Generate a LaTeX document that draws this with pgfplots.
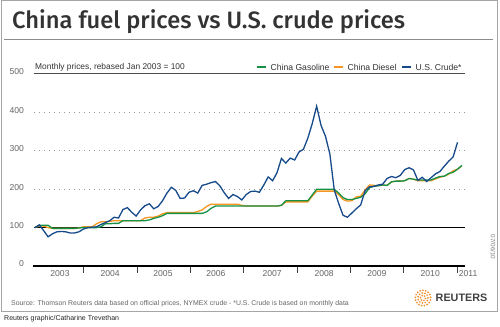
\documentclass[border=0pt]{standalone}
\usepackage{pgfplots}
\pgfplotsset{compat=1.18}
\usepackage{pgfplotstable}
\usepackage{fontspec}
\setmainfont{Liberation Sans}
\newfontfamily\titlefont{Fira Sans}[UprightFont=* Medium]
\definecolor{gasc}{RGB}{22,146,72}
\definecolor{diec}{RGB}{246,150,32}
\definecolor{crdc}{RGB}{22,74,138}
\definecolor{txt}{RGB}{51,51,51}
\definecolor{tickc}{RGB}{102,102,102}
\definecolor{framec}{RGB}{165,165,165}
\definecolor{rorange}{RGB}{242,140,40}

\pgfplotstableread{
k gas diesel crude
0 100 100 100
1 106 104 107
2 106 104 92
3 106 100 76
4 98 98 84
5 98 98 89
6 98 98 90
7 98 98 89
8 98 98 86
9 98 98 86
10 99 99 89
11 100 102 96
12 100 102 100
13 100 102 101
14 100 110 102
15 102 115 108
16 110 115 113
17 110 116 118
18 111 118 127
19 111 118 125
20 118 118 147
21 118 118 152
22 118 118 140
23 118 118 130
24 118 118 146
25 118 125 157
26 120 127 162
27 124 127 149
28 127 130 155
29 131 136 170
30 137 139 190
31 137 139 205
32 137 139 197
33 137 139 176
34 137 139 177
35 137 139 192
36 137 139 196
37 137 142 190
38 137 146 210
39 141 155 213
40 150 161 217
41 156 161 220
42 156 161 209
43 156 161 191
44 156 161 176
45 156 161 186
46 156 161 181
47 156 158 172
48 156 156 186
49 156 156 194
50 156 156 195
51 156 156 192
52 156 156 211
53 156 156 232
54 156 156 222
55 156 156 243
56 158 158 280
57 170 167 268
58 170 167 281
59 170 167 276
60 170 167 297
61 170 167 304
62 170 167 333
63 185 182 371
64 200 195 416
65 200 195 366
66 200 195 338
67 200 195 292
68 200 195 198
69 190 186 163
70 178 173 132
71 173 169 127
72 173 170 138
73 176 180 149
74 179 182 159
75 188 198 196
76 204 211 206
77 208 210 207
78 209 209 211
79 211 211 213
80 210 210 228
81 219 219 233
82 221 221 230
83 221 221 236
84 222 222 251
85 228 228 256
86 226 226 250
87 224 222 223
88 224 222 231
89 224 222 220
90 224 222 230
91 229 227 240
92 233 231 246
93 234 234 260
94 241 239 273
95 244 248 284
96 252 252 322
97 262 261 nan
}\fuel

\begin{document}
\begin{tikzpicture}[x=1bp,y=1bp]
\useasboundingbox (0,0) rectangle (500,326);
\fill[white] (0,0) rectangle (500,326);
\draw[framec, line width=1bp] (1,325) rectangle (497,15);
\node[anchor=base west, inner sep=0pt, text=txt, font={\titlefont\fontsize{23.7bp}{26bp}\selectfont}] at (12,297.7) {China fuel prices vs U.S. crude prices};
\draw[black!45, line width=0.8bp] (4,287) -- (493,287);

\begin{axis}[
  at={(34bp,60bp)}, anchor=south west,
  scale only axis, width=431bp, height=192bp,
  xmin=-0.2, xmax=97.7, ymin=0, ymax=500,
  clip=false,
  axis line style={draw=none},
  xtick={10.93,23.2,35.24,47.28,59.55,71.59,83.62,95.89},
  xticklabels={},
  xtick pos=left, ytick pos=left,
  tick align=outside,
  major tick length=6.5bp,
  xtick style={draw=black!75, line width=1bp},
  ytick={0,100,200,300,400,500},
  ytick style={draw=none},
  yticklabel style={font=\fontsize{8.6bp}{10bp}\selectfont, text=tickc, yshift=2bp},
  /pgf/number format/assume math mode=true,
]
\draw[black!40, line width=1bp, dash pattern=on 1bp off 4bp] (axis cs:-0.2,200) -- (axis cs:97.7,200);
\draw[black!40, line width=1bp, dash pattern=on 1bp off 4bp] (axis cs:-0.2,300) -- (axis cs:97.7,300);
\draw[black!40, line width=1bp, dash pattern=on 1bp off 4bp] (axis cs:-0.2,400) -- (axis cs:97.7,400);
\draw[black!70, line width=1bp] (axis cs:-0.2,500) -- (axis cs:97.7,500);
\draw[black, line width=1.3bp] (axis cs:-0.2,100) -- (axis cs:97.7,100);
\draw[black, line width=2bp] (axis cs:-0.5,0) -- (axis cs:97.7,0);

\addplot[diec, line width=1.3bp, mark=none] table[x=k,y=diesel]{\fuel};
\addplot[gasc, line width=1.3bp, mark=none] table[x=k,y=gas]{\fuel};
\addplot[crdc, line width=1.3bp, mark=none] table[x=k,y=crude]{\fuel};

\node[anchor=south west, inner sep=0pt, text=txt, font=\fontsize{8.4bp}{10bp}\selectfont, yshift=2.5bp, xshift=1bp] at (axis cs:-0.2,500) {Monthly prices, rebased Jan 2003 = 100};

\node[text=tickc, font=\fontsize{8.6bp}{10bp}\selectfont, yshift=-7.5bp] at (axis cs:5.7,0) {2003};
\node[text=tickc, font=\fontsize{8.6bp}{10bp}\selectfont, yshift=-7.5bp] at (axis cs:17.1,0) {2004};
\node[text=tickc, font=\fontsize{8.6bp}{10bp}\selectfont, yshift=-7.5bp] at (axis cs:29.1,0) {2005};
\node[text=tickc, font=\fontsize{8.6bp}{10bp}\selectfont, yshift=-7.5bp] at (axis cs:41.1,0) {2006};
\node[text=tickc, font=\fontsize{8.6bp}{10bp}\selectfont, yshift=-7.5bp] at (axis cs:53.9,0) {2007};
\node[text=tickc, font=\fontsize{8.6bp}{10bp}\selectfont, yshift=-7.5bp] at (axis cs:65.7,0) {2008};
\node[text=tickc, font=\fontsize{8.6bp}{10bp}\selectfont, yshift=-7.5bp] at (axis cs:77.7,0) {2009};
\node[text=tickc, font=\fontsize{8.6bp}{10bp}\selectfont, yshift=-7.5bp] at (axis cs:89.8,0) {2010};
\node[text=tickc, font=\fontsize{8.6bp}{10bp}\selectfont, yshift=-7.5bp] at (axis cs:98.4,0) {2011};
\end{axis}

% legend
\draw[gasc, line width=1.8bp] (257,259) -- (266,259);
\node[anchor=west, inner sep=0pt, text=txt, font=\fontsize{8.6bp}{10bp}\selectfont] at (270.5,259) {China Gasoline};
\draw[diec, line width=1.8bp] (334,259) -- (343,259);
\node[anchor=west, inner sep=0pt, text=txt, font=\fontsize{8.6bp}{10bp}\selectfont] at (347.5,259) {China Diesel};
\draw[crdc, line width=1.8bp] (402,259) -- (411,259);
\node[anchor=west, inner sep=0pt, text=txt, font=\fontsize{8.6bp}{10bp}\selectfont] at (415.5,259) {U.S. Crude*};

\node[anchor=west, inner sep=0pt, text=tickc, font=\fontsize{6.9bp}{8bp}\selectfont] at (11,22) {Source: Thomson Reuters data based on official prices, NYMEX crude - *U.S. Crude is based on monthly data};
\node[anchor=west, inner sep=0pt, text=black!85, font=\fontsize{7bp}{8bp}\selectfont] at (4,7.5) {Reuters graphic/Catharine Trevethan};
\node[rotate=-90, inner sep=0pt, text=black!50, font=\fontsize{6.3bp}{7bp}\selectfont] at (493,79) {07/06/10};

\foreach \r/\n in {2.5/6, 5/11, 7.7/17}{
  \foreach \i in {1,...,\n}{
    \fill[rorange] (423,28) ++({360*\i/\n+20*\r}:\r) circle (0.95);
  }
}
\node[anchor=west, inner sep=0pt, text=black!75, font=\bfseries\fontsize{10.8bp}{12bp}\selectfont] at (435.5,28) {REUTERS};
\end{tikzpicture}
\end{document}
